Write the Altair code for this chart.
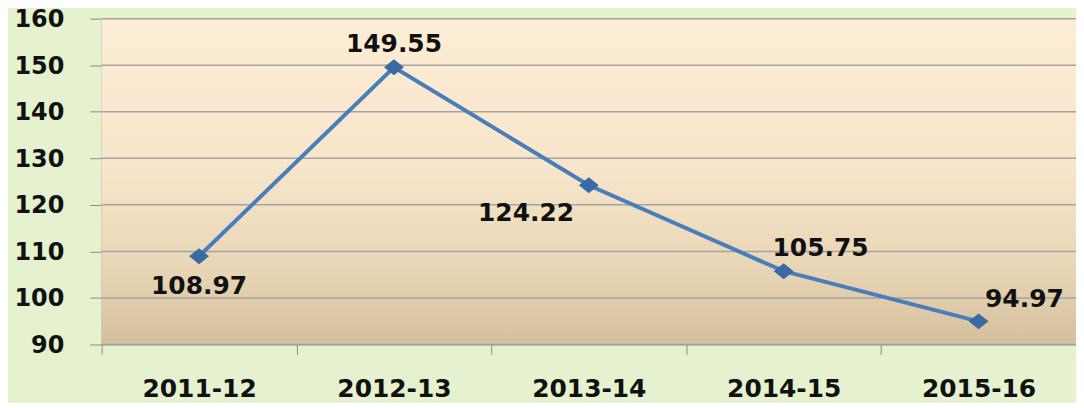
import altair as alt
import pandas as pd

years = ["2011-12", "2012-13", "2013-14", "2014-15", "2015-16"]
values = [108.97, 149.55, 124.22, 105.75, 94.97]
labels = ["108.97", "149.55", "124.22", "105.75", "94.97"]
y_ticks = [90, 100, 110, 120, 130, 140, 150, 160]

df = pd.DataFrame({"year": years, "value": values, "label": labels})
grid_df = pd.DataFrame({"value": y_ticks})
bg_df = pd.DataFrame({"k": [0]})

W, H = 978, 327
FONT = "DejaVu Sans"
FS = 25
GRID = "#a3a3a3"

x_axis = alt.Axis(title=None, labelFont=FONT, labelFontSize=FS, labelFontWeight="bold",
                  labelColor="#111111", labelPadding=22, tickBand="extent", tickSize=10,
                  tickColor="#8c8c8c", domainColor="#8c8c8c", labelAngle=0, grid=False)
x_scale = alt.Scale(type="band", paddingInner=0, paddingOuter=0)
y_axis = alt.Axis(title=None, values=y_ticks, labelFont=FONT, labelFontSize=24,
                  labelFontWeight="bold", labelColor="#111111", labelPadding=26,
                  labelOffset=1, tickSize=12, tickColor="#8c8c8c", domainColor="#8c8c8c",
                  grid=False)
y_scale = alt.Scale(domain=[90, 160], nice=False, zero=False)

bg = alt.Chart(bg_df).mark_rect(
    fill=alt.Gradient(gradient="linear", x1=0, x2=0, y1=0, y2=1,
                      stops=[alt.GradientStop(color="#FEEDD6", offset=0),
                             alt.GradientStop(color="#F7E6CB", offset=0.45),
                             alt.GradientStop(color="#EAD7B7", offset=0.75),
                             alt.GradientStop(color="#D5C09D", offset=1)])
).encode(x=alt.value(0), x2=alt.value(W), y=alt.value(0), y2=alt.value(H))

grid = alt.Chart(grid_df).mark_rule(color=GRID, strokeWidth=1.5).encode(
    y=alt.Y("value:Q", scale=y_scale, axis=y_axis)
)

base = alt.Chart(df).encode(
    x=alt.X("year:N", sort=years, scale=x_scale, axis=x_axis),
    y=alt.Y("value:Q", scale=y_scale, axis=y_axis),
)

line = base.mark_line(color="#4A7EBB", strokeWidth=4)
points = base.mark_point(shape="M -1 0 L 0 -0.8 L 1 0 L 0 0.8 Z", filled=True, size=400,
                         color="#3A69A3", opacity=1)

offsets = {
    "2011-12": (0, 30),
    "2012-13": (0, -23),
    "2013-14": (-63, 28),
    "2014-15": (37, -23),
    "2015-16": (46, -22),
}
texts = []
for yr, (dx, dy) in offsets.items():
    texts.append(
        base.transform_filter(alt.datum.year == yr).mark_text(
            font=FONT, fontSize=FS, fontWeight="bold", color="#111111",
            dx=dx, dy=dy, align="center", baseline="middle"
        ).encode(text="label:N")
    )

chart = alt.layer(bg, grid, line, points, *texts).properties(
    width=W, height=H,
    padding={"left": 94, "top": 10, "right": 0, "bottom": 58},
    autosize=alt.AutoSizeParams(type="none"),
    background="#E5F1CF",
).configure_view(stroke=None)

chart.save("out.html", embed_options={"renderer": "svg", "actions": False})
